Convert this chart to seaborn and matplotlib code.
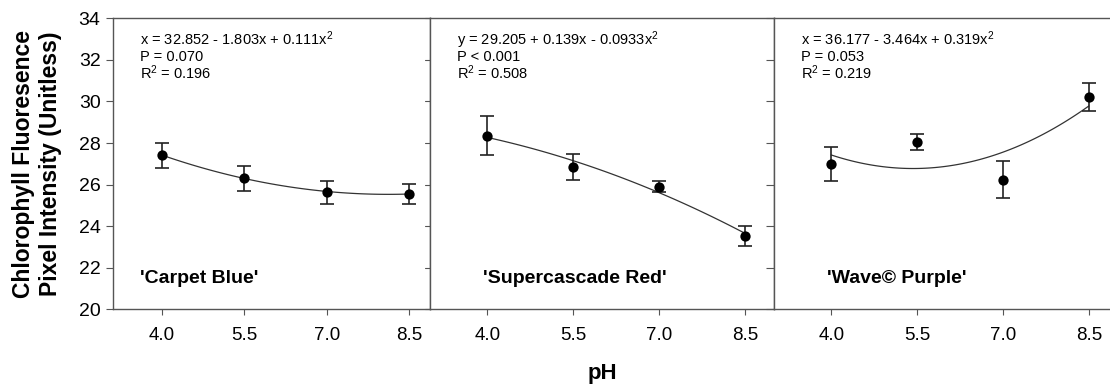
import numpy as np
import pandas as pd
import seaborn as sns
import matplotlib.pyplot as plt

sns.set_theme(style="ticks")
plt.rcParams["font.family"] = ["Liberation Sans", "DejaVu Sans"]
plt.rcParams["mathtext.default"] = "regular"
plt.rcParams["text.color"] = "black"
plt.rcParams["xtick.labelcolor"] = "black"
plt.rcParams["ytick.labelcolor"] = "black"

# dados
ph = [4.0, 5.5, 7.0, 8.5]
cultivares = ["'Carpet Blue'", "'Supercascade Red'", "'Wave\u00a9 Purple'"]
media_blue = [27.40, 26.30, 25.63, 25.55]
erro_blue = [0.60, 0.61, 0.54, 0.48]
media_red = [28.35, 26.85, 25.89, 23.53]
erro_red = [0.94, 0.64, 0.27, 0.50]
media_purple = [26.99, 28.06, 26.24, 30.20]
erro_purple = [0.83, 0.38, 0.88, 0.68]
# coeficientes da regressão quadrática (a + b*x + c*x^2)
coef_blue = [32.852, -1.803, 0.111]
coef_red = [29.205, 0.139, -0.0933]
coef_purple = [36.177, -3.464, 0.319]
equacoes = [
    ["x = 32.852 - 1.803x + 0.111x$^2$", "P = 0.070", "R$^2$ = 0.196"],
    ["y = 29.205 + 0.139x - 0.0933x$^2$", "P < 0.001", "R$^2$ = 0.508"],
    ["x = 36.177 - 3.464x + 0.319x$^2$", "P = 0.053", "R$^2$ = 0.219"],
]
y_ticks = [20, 22, 24, 26, 28, 30, 32, 34]

medias = [media_blue, media_red, media_purple]
erros = [erro_blue, erro_red, erro_purple]
coefs = [coef_blue, coef_red, coef_purple]

W, H = 1110, 387
fig = plt.figure(figsize=(W / 100, H / 100), dpi=100)

# posições em pixels: (esquerda, direita), limites de x
paineis = [((113, 430), (3.107, 8.88)), ((430, 774), (3.0, 9.0)), ((774, 1110), (3.0, 8.87))]
topo, base = 18.3, 309.3
cor_eixo = "#555555"

for i, ((x0, x1), xlim) in enumerate(paineis):
    ax = fig.add_axes([x0 / W, 1 - base / H, (x1 - x0) / W, (base - topo) / H])
    df = pd.DataFrame({"pH": ph, "valor": medias[i], "erro": erros[i]})

    # curva ajustada
    a, b, c = coefs[i]
    xs = np.linspace(ph[0], ph[-1], 100)
    curva = pd.DataFrame({"pH": xs, "ajuste": a + b * xs + c * xs ** 2})
    sns.lineplot(data=curva, x="pH", y="ajuste", ax=ax, color="#333333", lw=0.9)

    ax.errorbar(df["pH"], df["valor"], yerr=df["erro"], fmt="none", ecolor="#222222",
                elinewidth=1.2, capsize=5, capthick=1.2, zorder=3)
    sns.scatterplot(data=df, x="pH", y="valor", ax=ax, color="black", s=55,
                    edgecolor="black", linewidth=0, zorder=4)

    ax.set_xlim(*xlim)
    ax.set_ylim(20, 34)
    ax.set_xticks(ph)
    ax.set_xticklabels([f"{v:.1f}" for v in ph], fontsize=13.5)
    ax.set_yticks(y_ticks)
    ax.set_xlabel("")
    ax.set_ylabel("")
    ax.tick_params(axis="x", direction="out", length=4, width=0.8, color=cor_eixo, pad=9)

    if i == 0:
        ax.tick_params(axis="y", which="both", left=True, right=False, direction="out",
                       length=5, width=0.8, color=cor_eixo, labelsize=14, pad=4)
        ax.set_yticklabels([str(v) for v in y_ticks])
        # ticks internos à direita
        for yv in y_ticks:
            ax.plot([xlim[1] - 0.09, xlim[1]], [yv, yv], color=cor_eixo, lw=0.8, clip_on=False)
    elif i == 1:
        ax.tick_params(axis="y", left=False, labelleft=False, right=True, direction="in",
                       length=6, width=0.8, color=cor_eixo)
    else:
        ax.tick_params(axis="y", left=False, labelleft=False, right=False)

    for lado, sp in ax.spines.items():
        sp.set_color(cor_eixo)
        sp.set_linewidth(1.0)
    if i == 2:
        ax.spines["right"].set_visible(False)

    tx = [0.085, 0.078, 0.080][i]
    for linha, yy in zip(equacoes[i], [0.909, 0.853, 0.793]):
        ax.text(tx, yy, linha, transform=ax.transAxes, fontsize=10.5, va="baseline", ha="left")
    cx = [0.085, 0.154, 0.158][i]
    ax.text(cx, 0.091, cultivares[i], transform=ax.transAxes, fontsize=14,
            fontweight="bold", va="baseline", ha="left")

fig.text(37 / W, 1 - 163.8 / H, "Chlorophyll Fluoresence\nPixel Intensity (Unitless)",
         rotation=90, ha="center", va="center", fontsize=16.5, fontweight="bold",
         linespacing=1.25)
fig.text(602 / W, 1 - 374 / H, "pH", ha="center", va="center", fontsize=16, fontweight="bold")

fig.savefig("out.png", dpi=100)
